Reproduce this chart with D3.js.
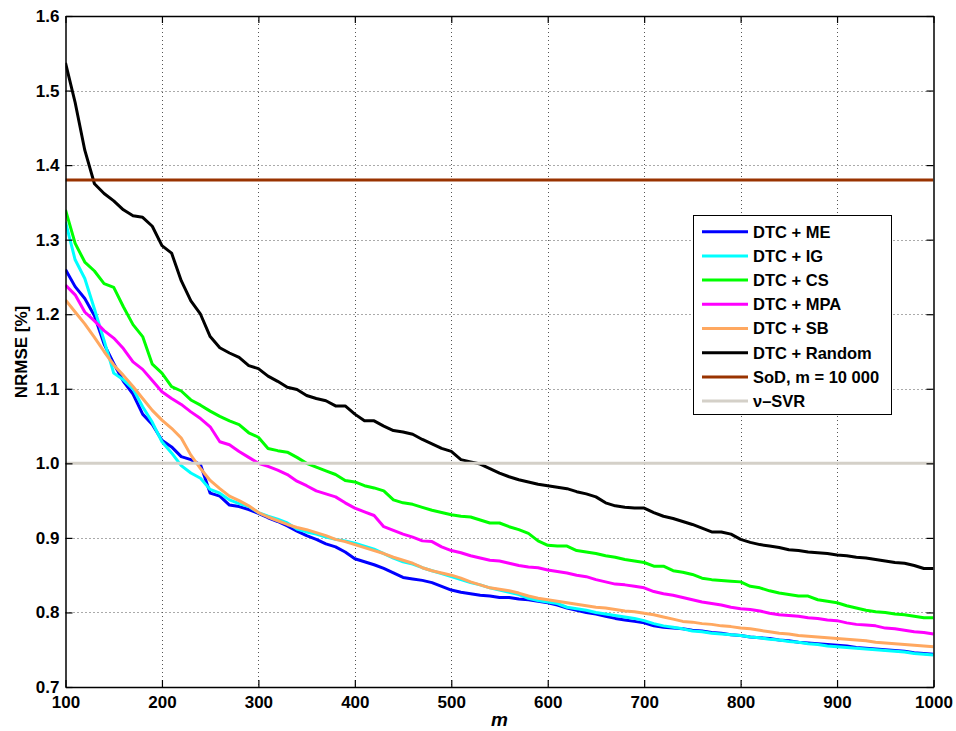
<!DOCTYPE html>
<html>
<head>
<meta charset="utf-8">
<script src="https://cdn.jsdelivr.net/npm/d3@7"></script>
<style>
  html, body { margin: 0; padding: 0; background: #fff; }
  svg text { font-family: "Liberation Sans", Arial, Helvetica, sans-serif; font-weight: bold; }
</style>
</head>
<body>
<svg id="chart" width="956" height="731"></svg>
<script>
// Number of selected basis points m (step 10 from 100 to 1000)
const mValues = d3.range(100, 1001, 10);

// NRMSE [%] per selection method
const dtcME = [1.260,1.237,1.221,1.198,1.160,1.134,1.110,1.093,1.066,1.052,1.031,1.022,1.009,1.005,0.998,0.960,0.956,0.944,0.942,0.938,
  0.933,0.927,0.922,0.916,0.909,0.903,0.898,0.892,0.888,0.881,0.872,0.868,0.864,0.859,0.853,0.847,0.845,0.843,0.840,0.835,
  0.830,0.827,0.825,0.823,0.822,0.820,0.820,0.818,0.817,0.815,0.813,0.810,0.806,0.803,0.800,0.798,0.795,0.792,0.790,0.788,
  0.786,0.782,0.780,0.779,0.778,0.776,0.775,0.773,0.772,0.770,0.769,0.767,0.766,0.765,0.763,0.762,0.760,0.759,0.758,0.757,
  0.756,0.755,0.753,0.752,0.751,0.750,0.749,0.748,0.746,0.745,0.744];
const dtcIG = [1.324,1.273,1.248,1.207,1.165,1.121,1.112,1.100,1.076,1.055,1.029,1.014,0.997,0.987,0.980,0.965,0.960,0.951,0.946,0.942,
  0.934,0.929,0.925,0.920,0.912,0.908,0.905,0.901,0.898,0.896,0.893,0.889,0.885,0.879,0.873,0.868,0.865,0.860,0.856,0.852,
  0.848,0.844,0.840,0.837,0.833,0.830,0.827,0.824,0.819,0.816,0.814,0.812,0.807,0.805,0.803,0.800,0.798,0.796,0.794,0.792,
  0.789,0.785,0.782,0.780,0.778,0.775,0.774,0.772,0.771,0.770,0.769,0.767,0.766,0.764,0.763,0.761,0.760,0.758,0.757,0.755,
  0.754,0.753,0.752,0.751,0.750,0.749,0.748,0.747,0.745,0.744,0.743];
const dtcCS = [1.340,1.295,1.270,1.258,1.241,1.236,1.210,1.186,1.170,1.133,1.121,1.103,1.097,1.085,1.078,1.070,1.063,1.057,1.052,1.041,
  1.035,1.020,1.017,1.015,1.008,1.000,0.995,0.990,0.985,0.977,0.975,0.970,0.967,0.963,0.951,0.947,0.945,0.941,0.937,0.934,
  0.931,0.929,0.928,0.924,0.920,0.920,0.915,0.911,0.906,0.896,0.890,0.889,0.889,0.883,0.881,0.879,0.876,0.874,0.871,0.869,
  0.867,0.862,0.862,0.856,0.854,0.851,0.846,0.844,0.843,0.842,0.841,0.835,0.833,0.829,0.826,0.824,0.822,0.822,0.817,0.815,
  0.813,0.809,0.806,0.803,0.801,0.800,0.798,0.797,0.795,0.793,0.793];
const dtcMPA = [1.239,1.226,1.203,1.191,1.178,1.168,1.154,1.136,1.126,1.111,1.096,1.087,1.079,1.069,1.060,1.049,1.029,1.025,1.016,1.008,
  1.000,0.996,0.991,0.985,0.976,0.970,0.963,0.959,0.955,0.947,0.940,0.935,0.930,0.915,0.910,0.905,0.901,0.896,0.895,0.888,
  0.883,0.880,0.876,0.873,0.870,0.869,0.866,0.863,0.861,0.860,0.857,0.855,0.853,0.850,0.848,0.844,0.841,0.838,0.837,0.835,
  0.833,0.828,0.825,0.823,0.820,0.817,0.814,0.812,0.810,0.807,0.805,0.804,0.802,0.799,0.797,0.796,0.795,0.793,0.792,0.790,
  0.789,0.786,0.784,0.783,0.782,0.779,0.778,0.776,0.774,0.773,0.771];
const dtcSB = [1.219,1.203,1.187,1.169,1.150,1.132,1.118,1.103,1.087,1.071,1.058,1.047,1.034,1.011,0.993,0.977,0.966,0.956,0.950,0.943,
  0.934,0.928,0.923,0.918,0.914,0.911,0.907,0.903,0.898,0.895,0.891,0.887,0.883,0.879,0.874,0.870,0.866,0.860,0.856,0.853,
  0.850,0.846,0.841,0.837,0.833,0.831,0.829,0.826,0.822,0.819,0.817,0.815,0.813,0.811,0.809,0.807,0.806,0.804,0.802,0.801,
  0.799,0.797,0.794,0.791,0.788,0.787,0.785,0.784,0.782,0.781,0.779,0.778,0.776,0.774,0.772,0.771,0.769,0.768,0.767,0.766,
  0.765,0.764,0.763,0.762,0.760,0.759,0.758,0.757,0.756,0.755,0.754];
const dtcRandom = [1.537,1.484,1.420,1.375,1.362,1.352,1.340,1.332,1.330,1.318,1.292,1.282,1.245,1.218,1.200,1.170,1.155,1.148,1.142,1.131,
  1.127,1.117,1.110,1.102,1.099,1.091,1.087,1.084,1.077,1.077,1.066,1.057,1.057,1.050,1.044,1.042,1.039,1.032,1.026,1.020,
  1.016,1.005,1.002,0.999,0.993,0.987,0.982,0.978,0.975,0.972,0.970,0.968,0.966,0.962,0.959,0.955,0.947,0.943,0.941,0.940,
  0.940,0.934,0.929,0.926,0.922,0.918,0.913,0.908,0.908,0.905,0.898,0.894,0.891,0.889,0.887,0.884,0.883,0.881,0.880,0.879,
  0.877,0.876,0.874,0.873,0.871,0.869,0.867,0.866,0.863,0.859,0.859];
// Constant reference levels
const sodLevel = 1.38;
const svrLevel = 1.0;

const seriesNames = ["DTC + ME", "DTC + IG", "DTC + CS", "DTC + MPA", "DTC + SB", "DTC + Random", "SoD, m = 10 000", "\u03bd\u2013SVR"];
const seriesColors = ["#0000ff", "#00ffff", "#00ff00", "#ff00ff", "#ffa860", "#000000", "#993300", "#d4d0c8"];

const xTicks = [100, 200, 300, 400, 500, 600, 700, 800, 900, 1000];
const yTicks = [0.7, 0.8, 0.9, 1.0, 1.1, 1.2, 1.3, 1.4, 1.5, 1.6];

const svg = d3.select("#chart");
const L = 65.5, R = 933.5, T = 16, B = 687;
const x = d3.scaleLinear().domain([100, 1000]).range([L, R]);
const y = d3.scaleLinear().domain([0.7, 1.6]).range([B, T]);

svg.append("rect").attr("width", 956).attr("height", 731).attr("fill", "#fff");

// dotted grid
const grid = svg.append("g").attr("stroke", "#555").attr("stroke-width", 1).attr("stroke-dasharray", "1,3");
grid.selectAll("line.v").data(xTicks.slice(1, -1)).join("line")
  .attr("x1", d => Math.round(x(d)) + 0.5).attr("x2", d => Math.round(x(d)) + 0.5)
  .attr("y1", T).attr("y2", B);
grid.selectAll("line.h").data(yTicks.slice(1, -1)).join("line")
  .attr("y1", d => Math.round(y(d)) + 0.5).attr("y2", d => Math.round(y(d)) + 0.5)
  .attr("x1", L).attr("x2", R);

svg.append("clipPath").attr("id", "plotClip").append("rect")
  .attr("x", L).attr("y", T).attr("width", R - L).attr("height", B - T);

const series = [dtcME, dtcIG, dtcCS, dtcMPA, dtcSB, dtcRandom,
  mValues.map(() => sodLevel), mValues.map(() => svrLevel)];

const line = d3.line().x((d, i) => x(mValues[i])).y(d => y(d));
const plot = svg.append("g").attr("clip-path", "url(#plotClip)");
series.forEach((vals, k) => {
  plot.append("path").datum(vals)
    .attr("fill", "none").attr("stroke", seriesColors[k])
    .attr("stroke-width", 3).attr("stroke-linejoin", "round")
    .attr("d", line);
});

// axes with inward ticks on all four sides
const fontSize = 17;
const axB = svg.append("g").attr("transform", `translate(0,${B})`)
  .call(d3.axisBottom(x).tickValues(xTicks).tickSizeInner(-7).tickSizeOuter(0).tickPadding(12).tickFormat(d3.format("d")));
const axL = svg.append("g").attr("transform", `translate(${L},0)`)
  .call(d3.axisLeft(y).tickValues(yTicks).tickSizeInner(-7).tickSizeOuter(0).tickPadding(6).tickFormat(d3.format(".1f")));
const axT = svg.append("g").attr("transform", `translate(0,${T})`)
  .call(d3.axisTop(x).tickValues(xTicks).tickSizeInner(-7).tickSizeOuter(0).tickFormat(""));
const axR = svg.append("g").attr("transform", `translate(${R},0)`)
  .call(d3.axisRight(y).tickValues(yTicks).tickSizeInner(-7).tickSizeOuter(0).tickFormat(""));
[axB, axL, axT, axR].forEach(g => {
  g.select(".domain").attr("stroke", "#000").attr("stroke-width", 1.5);
  g.selectAll(".tick line").attr("stroke", "#000").attr("stroke-width", 1.2);
  g.selectAll("text").attr("font-size", fontSize).attr("fill", "#000")
    .attr("font-family", "Liberation Sans, Arial, sans-serif").attr("font-weight", "bold");
});
axB.selectAll("text").attr("dy", "0.71em").attr("y", 9);

// axis titles
svg.append("text").attr("x", (L + R) / 2).attr("y", 726).attr("text-anchor", "middle")
  .attr("font-size", 19).attr("font-style", "italic").text("m");
svg.append("text").attr("transform", `translate(27,${352}) rotate(-90)`).attr("text-anchor", "middle")
  .attr("font-size", fontSize).text("NRMSE [%]");

// legend
const lg = svg.append("g");
const lx = 693, ly = 215, lw = 198, lh = 199, rowH = 24.2, row0 = 231.7;
lg.append("rect").attr("x", lx + 0.5).attr("y", ly + 0.5).attr("width", lw).attr("height", lh)
  .attr("fill", "#fff").attr("stroke", "#000").attr("stroke-width", 1);
seriesNames.forEach((name, k) => {
  const yy = row0 + k * rowH;
  lg.append("line").attr("x1", 702).attr("x2", 748).attr("y1", yy).attr("y2", yy)
    .attr("stroke", seriesColors[k]).attr("stroke-width", 3);
  lg.append("text").attr("x", 753).attr("y", yy).attr("dy", "0.36em")
    .attr("font-size", 16.5).text(name);
});
</script>
</body>
</html>
